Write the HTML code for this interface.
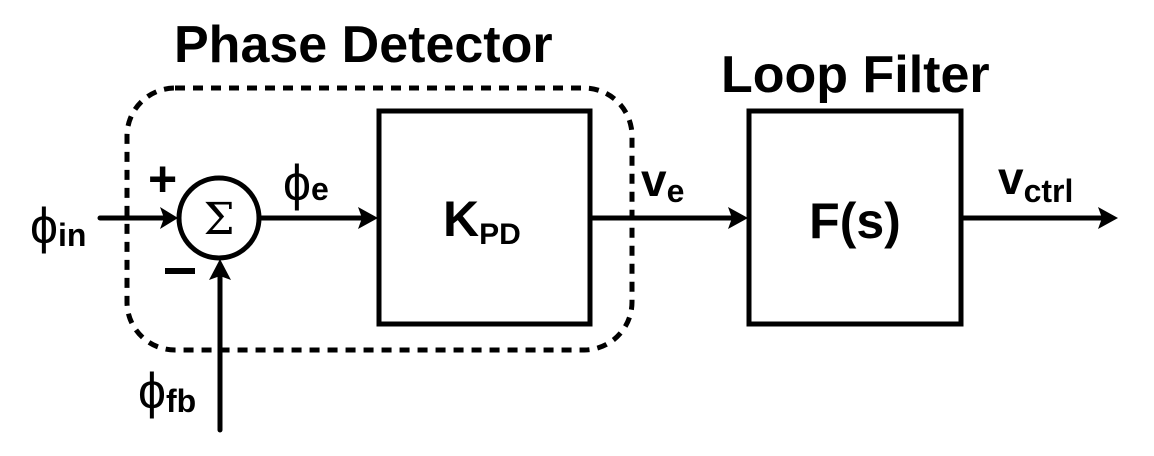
<!DOCTYPE html>
<html><head><meta charset="utf-8"><style>
html,body{margin:0;padding:0;background:#fff;}
svg{display:block;}
text{font-family:"Liberation Sans",sans-serif;font-weight:bold;fill:#000;}
</style></head><body>
<svg width="1154" height="456" viewBox="0 0 1154 456">
<rect x="127" y="88" width="505" height="262" rx="48" ry="48" fill="none" stroke="#000" stroke-width="5" stroke-dasharray="10,8"/>
<rect x="379" y="111" width="211" height="213" fill="none" stroke="#000" stroke-width="5"/>
<rect x="749" y="111" width="212" height="213" fill="none" stroke="#000" stroke-width="5"/>
<circle cx="219" cy="218" r="40" fill="none" stroke="#000" stroke-width="5"/>
<text x="219" y="234" font-size="44" text-anchor="middle" style="font-weight:normal;font-family:'DejaVu Serif','Liberation Serif',serif">Σ</text>
<g stroke="#000" stroke-width="5" stroke-linecap="round">
<line x1="100" y1="218" x2="170" y2="218"/>
<line x1="260" y1="218" x2="368" y2="218"/>
<line x1="590" y1="218" x2="738" y2="218"/>
<line x1="961" y1="218" x2="1105" y2="218"/>
<line x1="220" y1="430" x2="220" y2="270"/>
</g>
<g fill="#000">
<polygon points="178,218 160,207 164,218 160,229"/>
<polygon points="378,218 358,207 362,218 358,229"/>
<polygon points="748,218 728,207 732,218 728,229"/>
<polygon points="1118,218 1098,207 1102,218 1098,229"/>
<polygon points="220,259 209,280 220,276 231,280"/>
</g>
<text x="174" y="62" font-size="52">Phase Detector</text>
<text x="721" y="92" font-size="52">Loop Filter</text>
<text x="148" y="196" font-size="50">+</text>
<rect x="165" y="268" width="30" height="6" fill="#000"/>
<text x="30" y="243" font-size="50" style="font-weight:normal">ϕ<tspan font-size="32" font-weight="bold" dy="3">in</tspan></text>
<text x="283" y="200" font-size="50" style="font-weight:normal">ϕ<tspan font-size="32" font-weight="bold" dy="0">e</tspan></text>
<text x="138" y="408" font-size="50" style="font-weight:normal">ϕ<tspan font-size="32" font-weight="bold" dy="4">fb</tspan></text>
<text x="641" y="196" font-size="46">v<tspan font-size="32" dy="6">e</tspan></text>
<text x="998" y="194" font-size="46">v<tspan font-size="32" dy="8">ctrl</tspan></text>
<text x="443" y="236" font-size="50">K<tspan font-size="30" dy="8">PD</tspan></text>
<text x="855" y="238" font-size="50" text-anchor="middle">F(s)</text>
</svg>
</body></html>
